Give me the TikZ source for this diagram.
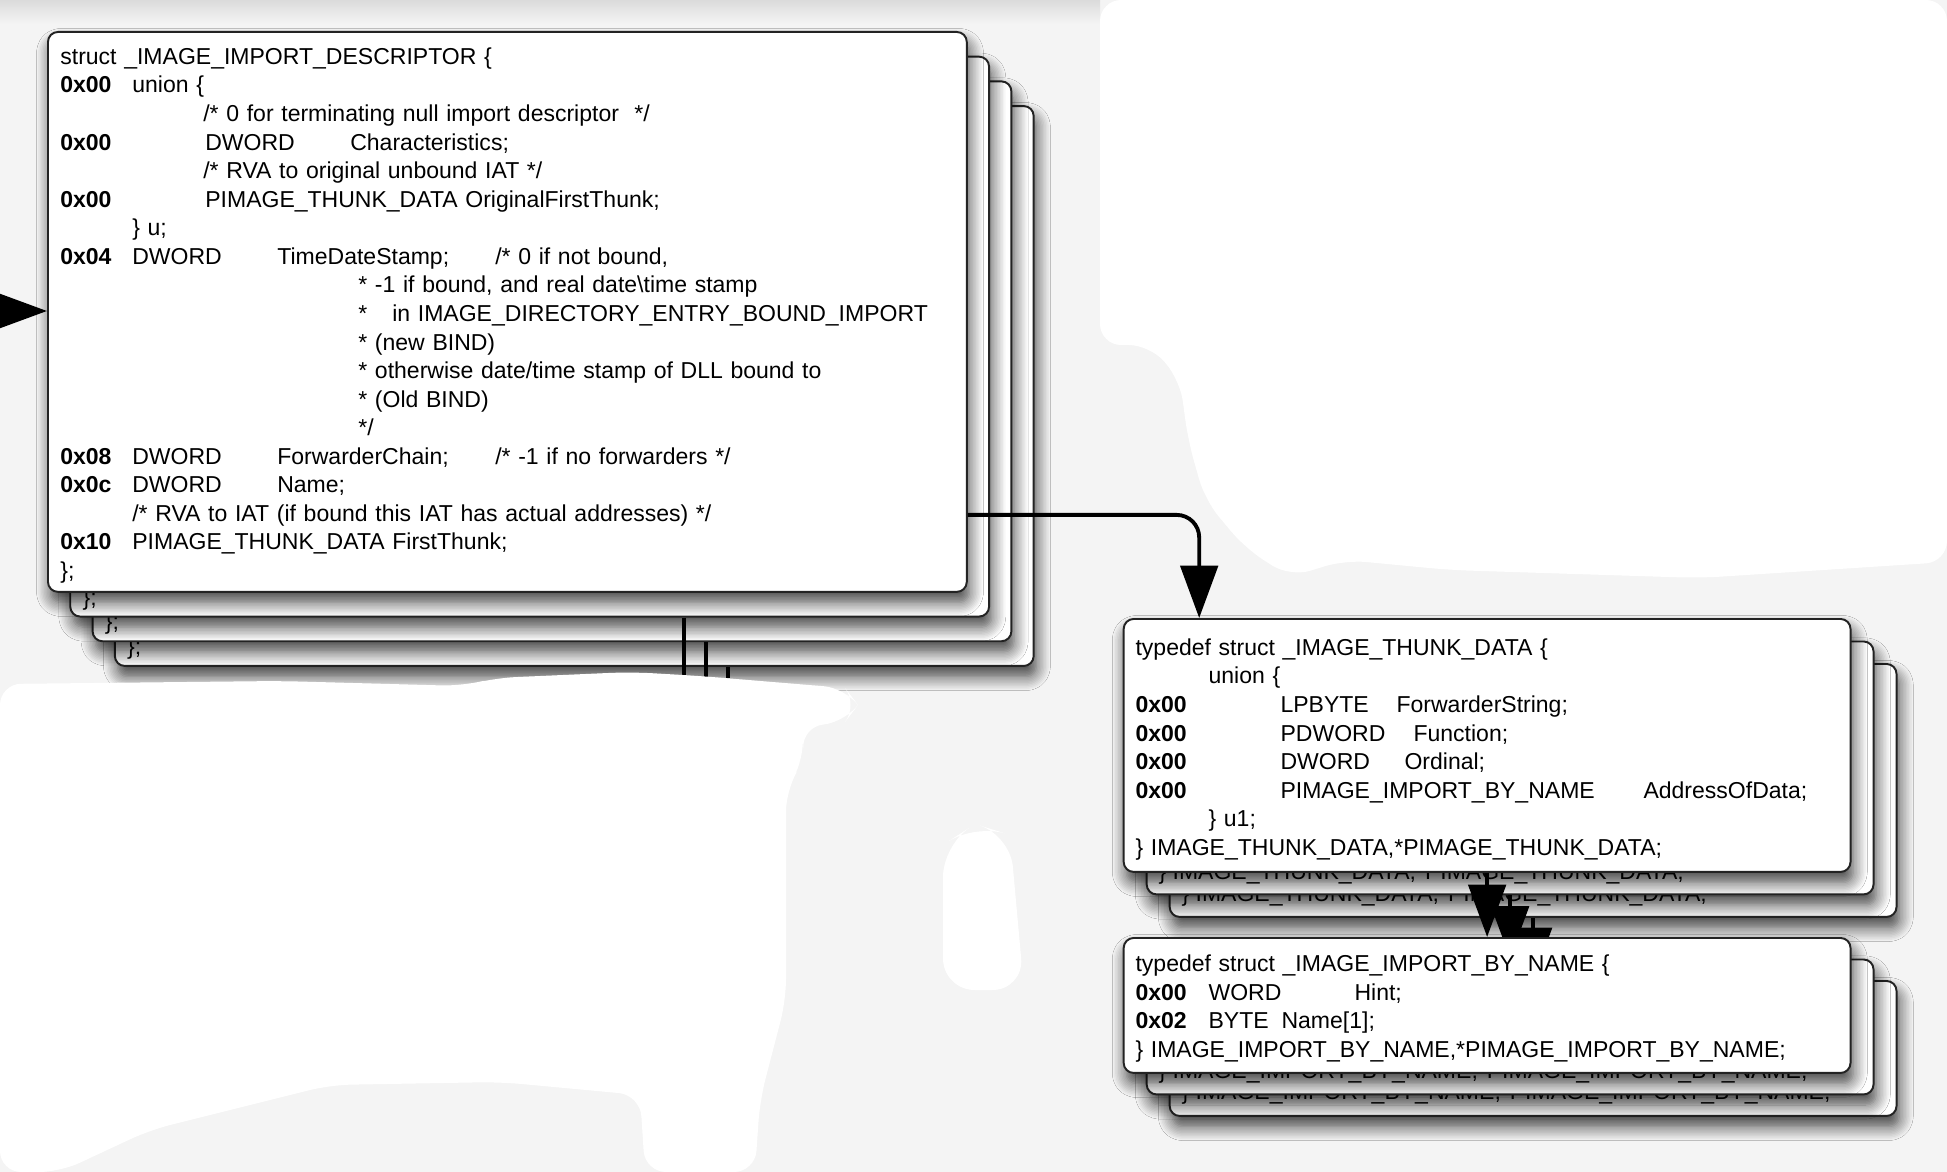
\documentclass[tikz,border=0pt]{standalone}
\usepackage{fontspec}
\setmainfont{Liberation Sans}
\usetikzlibrary{arrows.meta,positioning,shadows.blur}
\definecolor{bggray}{RGB}{244,244,244}
\definecolor{edgegray}{RGB}{35,35,35}
\newlength{\pxu}
\setlength{\pxu}{0.02cm}
\newcommand{\putat}[2]{\makebox[0pt][l]{\hspace*{#1\pxu}#2}}
\newcommand{\hx}[1]{\makebox[0pt][l]{\textbf{#1}}}

\tikzset{
  card/.style={draw=edgegray, line width=1.1pt, fill=white, rounded corners=0.2cm,
    inner sep=0pt, anchor=north west,
    blur shadow={shadow xshift=1.5pt, shadow yshift=-6pt, shadow blur radius=8pt,
      shadow blur steps=10, shadow opacity=75}},
  desccard/.style={card, minimum width=18.38cm, minimum height=11.2cm},
  thunkcard/.style={card, minimum width=14.54cm, minimum height=5.06cm},
  namecard/.style={card, minimum width=14.54cm, minimum height=2.7cm},
  code/.style={inner sep=0pt, align=left, text width=17cm,
    font=\fontsize{13.1}{16.26}\selectfont},
  tail/.style={inner sep=0pt, anchor=base west, font=\fontsize{13.1}{16.26}\selectfont},
  link/.style={line width=2.2pt, -{Triangle[length=1.05cm, width=0.75cm]}},
  feed/.style={line width=2.2pt},
}

\begin{document}
\begin{tikzpicture}[x=0.02cm, y=-0.02cm]
  % Backdrop
  \fill[bggray] (0,0) rectangle (1947,1172);
  \useasboundingbox (0,0) rectangle (1947,1172);
  \shade[top color=black!14, bottom color=bggray] (0,0) rectangle (1100,24);
  \fill[white, rounded corners=12pt] (1100,0) -- (1947,0) -- (1947,562) -- (1700,578)
    -- (1450,570) -- (1345,560) -- (1290,577) -- (1245,548) -- (1205,500) -- (1188,440)
    -- (1180,380) -- (1150,345) -- (1100,345) -- cycle;
  \fill[white, rounded corners=18pt] (943,990) -- (943,845) -- (975,824) -- (1010,835)
    -- (1024,990) -- cycle;

  % Descriptor stack
  \foreach \i in {4,3,2} {
    \node[desccard] (desc\i) at ({47+22.3*(\i-1)},{31+24.7*(\i-1)}) {};
    \node[tail] (desctail\i) at ([shift={(0.26cm,0.25cm)}]desc\i.south west) {\};};
  }
  \foreach \i in {2,3,4} {
    \coordinate (cut\i) at ({661.5+22.3*(\i-1)},678);
    \draw[feed] (desc\i.south -| cut\i) -- (cut\i);
  }
  \node[desccard] (desc1) at (47,31) {};
  \node[code, below right=0.26cm and 0.26cm of desc1.north west] (desctext) {%
    \strut\putat{0}{struct \_IMAGE\_IMPORT\_DESCRIPTOR \{}\\
    \strut\hx{0x00}\putat{72}{union \{}\\
    \strut\putat{143}{/* 0 for terminating null import descriptor \ */}\\
    \strut\hx{0x00}\putat{145}{DWORD}\putat{290}{Characteristics;}\\
    \strut\putat{143}{/* RVA to original unbound IAT */}\\
    \strut\hx{0x00}\putat{145}{PIMAGE\_THUNK\_DATA OriginalFirstThunk;}\\
    \strut\putat{72}{\} u;}\\
    \strut\hx{0x04}\putat{72}{DWORD}\putat{217}{TimeDateStamp;}\putat{435}{/* 0 if not bound,}\\
    \strut\putat{298}{* -1 if bound, and real date\textbackslash time stamp}\\
    \strut\putat{298}{*}\putat{332}{in IMAGE\_DIRECTORY\_ENTRY\_BOUND\_IMPORT}\\
    \strut\putat{298}{* (new BIND)}\\
    \strut\putat{298}{* otherwise date/time stamp of DLL bound to}\\
    \strut\putat{298}{* (Old BIND)}\\
    \strut\putat{298}{*/}\\
    \strut\hx{0x08}\putat{72}{DWORD}\putat{217}{ForwarderChain;}\putat{435}{/* -1 if no forwarders */}\\
    \strut\hx{0x0c}\putat{72}{DWORD}\putat{217}{Name;}\\
    \strut\putat{72}{/* RVA to IAT (if bound this IAT has actual addresses) */}\\
    \strut\hx{0x10}\putat{72}{PIMAGE\_THUNK\_DATA FirstThunk;}\\
    \strut\putat{0}{\};}};
  % Erased area below the descriptors
  \fill[white, rounded corners=12pt] (0,684) -- (280,681) -- (463,686) -- (495,678)
    -- (631,672) -- (700,676) -- (845,688) -- (858,705) -- (845,722) -- (802,727)
    -- (804,760) -- (786,790) -- (786,1000) -- (760,1100) -- (755,1172) -- (645,1172)
    -- (640,1095) -- (500,1082) -- (330,1085) -- (150,1130) -- (60,1172) -- (0,1172) -- cycle;

  % Thunk stack
  \foreach \i in {3,2} {
    \node[thunkcard] (thunk\i) at ({1122.7+23*(\i-1)},{618+22.5*(\i-1)}) {};
    \node[tail] (thunktail\i) at ([shift={(0.25cm,0.32cm)}]thunk\i.south west)
      {\} IMAGE\_THUNK\_DATA,*PIMAGE\_THUNK\_DATA;};
  }
  \node[thunkcard] (thunk1) at (1122.7,618) {};
  \node[code, below right=0.34cm and 0.25cm of thunk1.north west] (thunktext) {%
    \strut\putat{0}{typedef struct \_IMAGE\_THUNK\_DATA \{}\\
    \strut\putat{73}{union \{}\\
    \strut\hx{0x00}\putat{145}{LPBYTE}\putat{261}{ForwarderString;}\\
    \strut\hx{0x00}\putat{145}{PDWORD}\putat{278}{Function;}\\
    \strut\hx{0x00}\putat{145}{DWORD}\putat{269}{Ordinal;}\\
    \strut\hx{0x00}\putat{145}{PIMAGE\_IMPORT\_BY\_NAME}\putat{508}{AddressOfData;}\\
    \strut\putat{73}{\} u1;}\\
    \strut\putat{0}{\} IMAGE\_THUNK\_DATA,*PIMAGE\_THUNK\_DATA;}};

  % Import-by-name stack
  \foreach \i in {3,2} {
    \node[namecard] (name\i) at ({1122.7+23*(\i-1)},{937+21.5*(\i-1)}) {};
    \node[tail] (nametail\i) at ([shift={(0.25cm,0.34cm)}]name\i.south west)
      {\} IMAGE\_IMPORT\_BY\_NAME,*PIMAGE\_IMPORT\_BY\_NAME;};
  }
  \foreach \i in {3,2}
    \draw[link] ([xshift=7.29cm]thunk\i.south west) -- ([xshift=7.29cm]name\i.north west);
  \node[namecard] (name1) at (1122.7,937) {};
  \node[code, below right=0.29cm and 0.25cm of name1.north west] (nametext) {%
    \strut\putat{0}{typedef struct \_IMAGE\_IMPORT\_BY\_NAME \{}\\
    \strut\hx{0x00}\putat{73}{WORD}\putat{219}{Hint;}\\
    \strut\hx{0x02}\putat{73}{BYTE}\putat{146}{Name[1];}\\
    \strut\putat{0}{\} IMAGE\_IMPORT\_BY\_NAME,*PIMAGE\_IMPORT\_BY\_NAME;}};
  \draw[link] ([xshift=7.29cm]thunk1.south west) -- ([xshift=7.29cm]name1.north west);

  % Arrows
  \coordinate (entry) at (-70,311);
  \draw[link] (entry) -- (entry -| desc1.west);
  \draw[link, rounded corners=0.45cm] ([yshift=-9.68cm]desc1.north east)
    -| ([xshift=1.53cm]thunk1.north west);
\end{tikzpicture}
\end{document}
